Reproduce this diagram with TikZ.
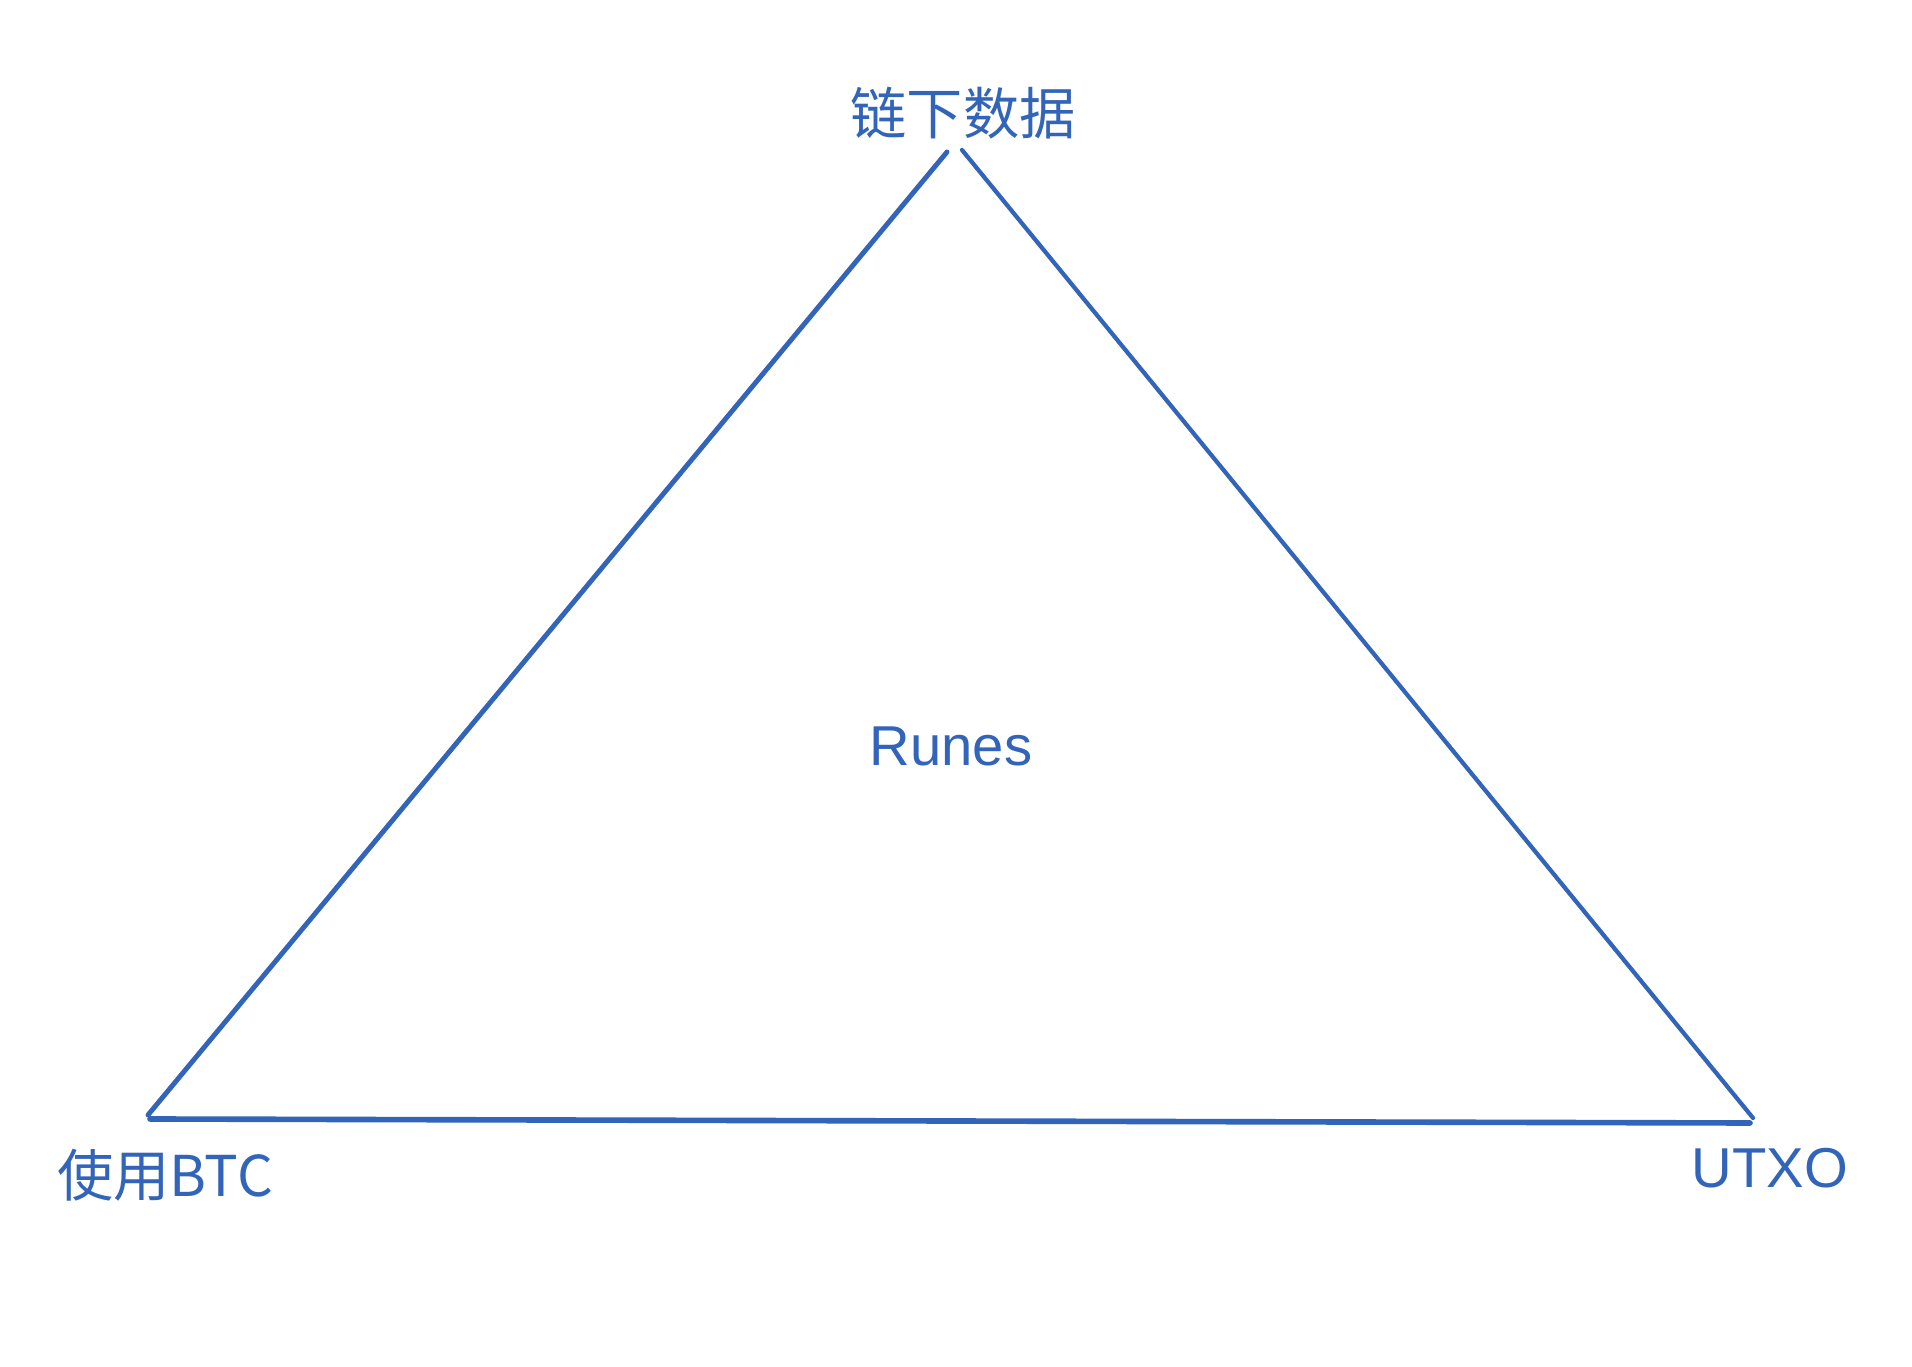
\documentclass[tikz,border=0pt]{standalone}
\usepackage{fontspec}
\setmainfont{Liberation Sans}
\newfontfamily\cjk{Noto Sans CJK SC}
\definecolor{runeblue}{RGB}{50,100,186}
\tikzset{
  label text/.style={text=runeblue, font=\fontsize{16}{18}\selectfont, inner sep=0pt},
  edge line/.style={runeblue, line width=1.4pt, line cap=round}
}

\begin{document}
\begin{tikzpicture}
\useasboundingbox (0,0) rectangle (19.12,13.66);
\node[label text] (offchain) at (9.63,12.53) {\cjk 链下数据};
\node[label text, anchor=base] (runes) at (9.51,6.00) {Runes};
\node[label text, anchor=base] (btc) at (1.65,1.69) {\cjk 使用BTC};
\node[label text, anchor=base] (utxo) at (17.70,1.78) {UTXO};
\coordinate (topL) at (9.47,12.14);
\coordinate (topR) at (9.62,12.16);
\coordinate (leftB) at (1.48,2.51);
\coordinate (baseL) at (1.50,2.47);
\coordinate (baseR) at (17.50,2.43);
\coordinate (rightB) at (17.53,2.48);
\draw[edge line] (topL) -- (leftB);
\draw[edge line, line width=1.2pt] (topR) -- (rightB);
\draw[edge line, line width=1.6pt] (baseL) -- (baseR);
\end{tikzpicture}
\end{document}
